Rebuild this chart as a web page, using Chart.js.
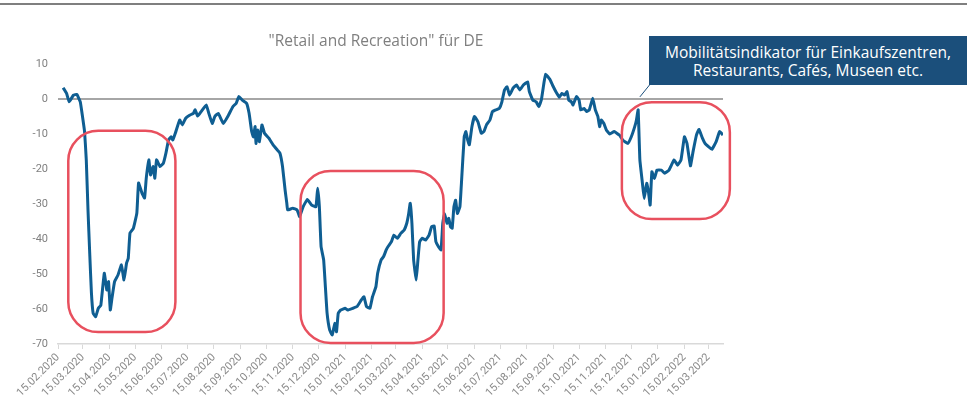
<!DOCTYPE html>
<html>
<head>
<meta charset="utf-8">
<script src="https://cdn.jsdelivr.net/npm/chart.js@4.4.1/dist/chart.umd.min.js"></script>
<style>
html,body{margin:0;padding:0;background:#ffffff;}
#wrap{position:relative;width:967px;height:414px;overflow:hidden;background:#ffffff;}
#topline{position:absolute;left:0;top:3px;width:967px;height:2px;background:#7f7f7f;}
#title{position:absolute;left:226px;width:300px;top:31px;text-align:center;font-family:"Open Sans",Roboto,sans-serif;font-size:15.5px;color:#7f7f7f;line-height:18px;}
#callout{position:absolute;left:649px;top:36px;width:318px;height:49px;background:#1B4F7B;color:#ffffff;font-family:"Open Sans",Roboto,sans-serif;font-size:15.5px;text-align:center;line-height:18px;padding-top:7px;box-sizing:border-box;}
canvas{position:absolute;left:0;top:0;}
</style>
</head>
<body>
<div id="wrap">
<canvas id="c" width="967" height="414"></canvas>
<div id="topline"></div>
<div id="title">"Retail and Recreation" für DE</div>
<div id="callout">Mobilitätsindikator für Einkaufszentren,<br>Restaurants, Cafés, Museen etc.</div>
</div>
<script>
// ---- data ----
const dates = [
"2020-02-21","2020-02-25","2020-02-28","2020-03-04","2020-03-08","2020-03-12","2020-03-14","2020-03-17","2020-03-19","2020-03-21",
"2020-03-23","2020-03-25","2020-03-27","2020-03-30","2020-04-02","2020-04-05","2020-04-09","2020-04-12","2020-04-14","2020-04-16",
"2020-04-18","2020-04-21","2020-04-25","2020-04-29","2020-05-02","2020-05-05","2020-05-07","2020-05-09","2020-05-13","2020-05-17",
"2020-05-19","2020-05-23","2020-05-26","2020-05-28","2020-05-31","2020-06-02","2020-06-05","2020-06-07","2020-06-09","2020-06-13",
"2020-06-17","2020-06-20","2020-06-23","2020-06-26","2020-06-28","2020-07-01","2020-07-06","2020-07-09","2020-07-13","2020-07-18",
"2020-07-22","2020-07-24","2020-07-27","2020-07-31","2020-08-06","2020-08-09","2020-08-13","2020-08-16","2020-08-20","2020-08-26",
"2020-09-01","2020-09-06","2020-09-10","2020-09-13","2020-09-17","2020-09-22","2020-09-25","2020-09-28","2020-09-30","2020-10-02",
"2020-10-03","2020-10-05","2020-10-07","2020-10-10","2020-10-13","2020-10-18","2020-10-23","2020-10-28","2020-10-31","2020-11-03",
"2020-11-06","2020-11-08","2020-11-09","2020-11-15","2020-11-20","2020-11-23","2020-11-27","2020-12-02","2020-12-07","2020-12-12",
"2020-12-14","2020-12-16","2020-12-18","2020-12-21","2020-12-23","2020-12-25","2020-12-28","2020-12-31","2021-01-03","2021-01-05",
"2021-01-07","2021-01-10","2021-01-15","2021-01-18","2021-01-24","2021-01-29","2021-02-03","2021-02-06","2021-02-09","2021-02-13",
"2021-02-16","2021-02-20","2021-02-22","2021-02-26","2021-03-01","2021-03-04","2021-03-06","2021-03-10","2021-03-13","2021-03-17",
"2021-03-21","2021-03-25","2021-03-28","2021-03-30","2021-04-01","2021-04-03","2021-04-05","2021-04-08","2021-04-10","2021-04-12",
"2021-04-15","2021-04-19","2021-04-23","2021-04-26","2021-04-29","2021-05-01","2021-05-04","2021-05-07","2021-05-09","2021-05-11",
"2021-05-14","2021-05-16","2021-05-18","2021-05-20","2021-05-22","2021-05-24","2021-05-26","2021-05-29","2021-05-31","2021-06-03",
"2021-06-05","2021-06-07","2021-06-09","2021-06-12","2021-06-15","2021-06-19","2021-06-23","2021-06-26","2021-06-29","2021-07-03",
"2021-07-06","2021-07-10","2021-07-14","2021-07-17","2021-07-20","2021-07-23","2021-07-26","2021-07-30","2021-08-03","2021-08-07",
"2021-08-11","2021-08-16","2021-08-18","2021-08-22","2021-08-26","2021-08-29","2021-09-01","2021-09-04","2021-09-06","2021-09-11",
"2021-09-14","2021-09-18","2021-09-22","2021-09-25","2021-09-28","2021-10-01","2021-10-03","2021-10-06","2021-10-08","2021-10-12",
"2021-10-15","2021-10-17","2021-10-21","2021-10-24","2021-10-27","2021-10-31","2021-11-03","2021-11-06","2021-11-08","2021-11-10",
"2021-11-13","2021-11-16","2021-11-20","2021-11-25","2021-12-01","2021-12-05","2021-12-11","2021-12-15","2021-12-19","2021-12-21",
"2021-12-23","2021-12-25","2021-12-28","2021-12-30","2022-01-02","2022-01-04","2022-01-06","2022-01-08","2022-01-11","2022-01-14",
"2022-01-19","2022-01-23","2022-01-28","2022-02-03","2022-02-07","2022-02-11","2022-02-15","2022-02-18","2022-02-22","2022-02-25",
"2022-03-01","2022-03-04","2022-03-08","2022-03-11","2022-03-15","2022-03-19","2022-03-24","2022-03-28","2022-04-01"
];
const retailRecreation = [
3.2,1.6,-0.8,1.1,1.3,-0.8,-4.0,-9.3,-17.4,-31.7,
-44.0,-55.4,-61.2,-62.2,-59.8,-58.9,-49.8,-54.6,-52.2,-60.3,
-56.9,-52.2,-50.3,-47.4,-51.7,-46.9,-45.5,-38.3,-36.9,-32.6,
-24.0,-26.9,-28.3,-22.6,-17.4,-21.7,-19.3,-22.6,-17.4,-19.3,
-18.3,-15.4,-11.7,-10.8,-11.7,-9.7,-6.0,-7.4,-5.5,-4.6,
-4.1,-3.1,-4.9,-3.6,-1.7,-4.1,-7.0,-5.0,-4.1,-7.0,
-4.6,-2.2,-1.2,0.7,-0.3,-1.2,-4.1,-9.3,-10.8,-7.9,
-12.7,-8.9,-12.2,-7.4,-9.8,-11.2,-13.1,-14.6,-15.5,-19.3,
-26.0,-29.8,-31.7,-31.2,-31.7,-33.6,-30.8,-28.7,-30.3,-30.8,
-25.5,-30.8,-42.2,-46.0,-53.6,-61.2,-66.0,-67.4,-64.1,-66.5,
-61.2,-60.3,-59.8,-60.3,-59.8,-59.3,-57.4,-56.5,-59.3,-59.8,
-56.5,-53.6,-49.8,-46.0,-45.0,-43.1,-42.2,-40.8,-38.9,-39.8,
-38.4,-37.4,-35.5,-33.1,-29.8,-35.5,-46.0,-51.7,-46.0,-40.8,
-39.8,-40.3,-38.9,-36.5,-36.3,-40.8,-42.2,-43.1,-35.5,-32.7,
-35.5,-34.1,-36.5,-36.9,-30.8,-28.9,-32.7,-30.8,-23.1,-10.8,
-9.3,-11.7,-13.1,-7.9,-5.0,-6.5,-9.8,-9.3,-7.4,-6.0,
-3.6,-3.1,-2.7,-0.8,2.6,3.5,1.1,3.1,4.0,2.6,
4.0,4.9,2.1,-0.3,-0.8,-2.2,-0.3,4.5,7.1,5.6,
4.0,2.1,0.5,1.6,1.1,2.1,-0.3,-0.8,-1.7,0.7,
-0.3,-3.1,-2.7,-3.6,-3.1,0.2,-3.1,-5.0,-7.9,-6.0,
-7.0,-8.9,-10.0,-9.3,-10.3,-11.7,-12.7,-10.8,-7.9,-6.0,
-3.1,-17.4,-24.1,-28.4,-24.1,-26.5,-30.3,-20.8,-22.7,-20.3,
-20.3,-21.2,-20.3,-17.4,-18.9,-17.4,-10.8,-12.7,-19.1,-15.1,
-10.3,-8.7,-11.2,-12.7,-13.6,-14.4,-12.2,-9.3,-10.3
];
const tickLabels = [
"15.02.2020","15.03.2020","15.04.2020","15.05.2020","15.06.2020","15.07.2020","15.08.2020","15.09.2020","15.10.2020","15.11.2020","15.12.2020",
"15.01.2021","15.02.2021","15.03.2021","15.04.2021","15.05.2021","15.06.2021","15.07.2021","15.08.2021","15.09.2021","15.10.2021","15.11.2021","15.12.2021",
"15.01.2022","15.02.2022","15.03.2022"
];
// highlighted periods (rounded red frames), in data coordinates
const highlightFrom   = ["2020-02-27","2020-11-24","2021-12-04"];
const highlightTo     = ["2020-07-01","2021-05-10","2022-04-09"];
const highlightTop    = [-9.1,-20.6,-0.9];
const highlightBottom = [-66.6,-69.7,-34.3];
const calloutTarget = {date:"2021-12-25", value:0.6};

// ---- helpers ----
const DAY = 86400000;
const origin = Date.UTC(2020,1,15);
const isoToDay = s => { const [y,m,d] = s.split("-").map(Number); return Math.round((Date.UTC(y,m-1,d)-origin)/DAY); };
const deToDay = s => { const [d,m,y] = s.split(".").map(Number); return Math.round((Date.UTC(y,m-1,d)-origin)/DAY); };
const tickDays = tickLabels.map(deToDay);
const labelByDay = {}; tickDays.forEach((d,i)=>labelByDay[d]=tickLabels[i]);
const points = dates.map((d,i)=>({x: isoToDay(d), y: retailRecreation[i]}));
const lastDay = isoToDay(dates[dates.length-1]);

const overlayPlugin = {
  id:'overlay',
  afterDatasetsDraw(chart){
    const {ctx, scales:{x,y}} = chart;
    ctx.save();
    ctx.strokeStyle = '#E8505E';
    ctx.lineWidth = 2.5;
    for (let i=0;i<highlightFrom.length;i++){
      const x0 = x.getPixelForValue(isoToDay(highlightFrom[i]));
      const x1 = x.getPixelForValue(isoToDay(highlightTo[i]));
      const y0 = y.getPixelForValue(highlightTop[i]);
      const y1 = y.getPixelForValue(highlightBottom[i]);
      const r = Math.min(30, (x1-x0)/3, (y1-y0)/3);
      ctx.beginPath();
      ctx.roundRect(x0,y0,x1-x0,y1-y0,r);
      ctx.stroke();
    }
    // leader line of callout
    const tx = x.getPixelForValue(isoToDay(calloutTarget.date));
    const ty = y.getPixelForValue(calloutTarget.value);
    ctx.strokeStyle = '#1B4F7B';
    ctx.lineWidth = 1;
    ctx.beginPath();
    ctx.moveTo(649.5,85);
    ctx.lineTo(tx,ty);
    ctx.stroke();
    ctx.restore();
  }
};

new Chart(document.getElementById('c'), {
  type:'line',
  data:{ datasets:[{
    data: points,
    borderColor:'#0F5E92',
    borderWidth:3,
    pointRadius:0,
    tension:0.1,
    fill:false
  }]},
  options:{
    responsive:false,
    animation:false,
    devicePixelRatio:1,
    layout:{padding:{left:0,right:244,top:64,bottom:0}},
    plugins:{legend:{display:false},tooltip:{enabled:false},title:{display:false}},
    scales:{
      x:{
        type:'linear',
        min:0,
        max:lastDay,
        afterFit(s){ s.height = 70; },
        afterBuildTicks(s){ s.ticks = tickDays.map(v=>({value:v})); },
        ticks:{
          autoSkip:false, maxRotation:45, minRotation:45,
          color:'#8a8a8a', font:{family:'Roboto', size:11}, padding:2,
          callback:(v)=>labelByDay[v] ?? ''
        },
        grid:{display:true, drawOnChartArea:false, drawTicks:true, tickLength:5, color:'#D9D9D9', lineWidth:1},
        border:{display:true, color:'#D9D9D9', width:1.5}
      },
      y:{
        min:-70, max:10,
        afterFit(s){ s.width = 58; },
        ticks:{stepSize:10, color:'#808080', font:{family:'Roboto', size:11}, padding:10},
        grid:{
          drawTicks:false,
          color:(c)=> c.tick && c.tick.value===0 ? '#A6A6A6' : 'rgba(0,0,0,0)',
          lineWidth:(c)=> c.tick && c.tick.value===0 ? 2 : 0
        },
        border:{display:false}
      }
    }
  },
  plugins:[overlayPlugin]
});
</script>
</body>
</html>
